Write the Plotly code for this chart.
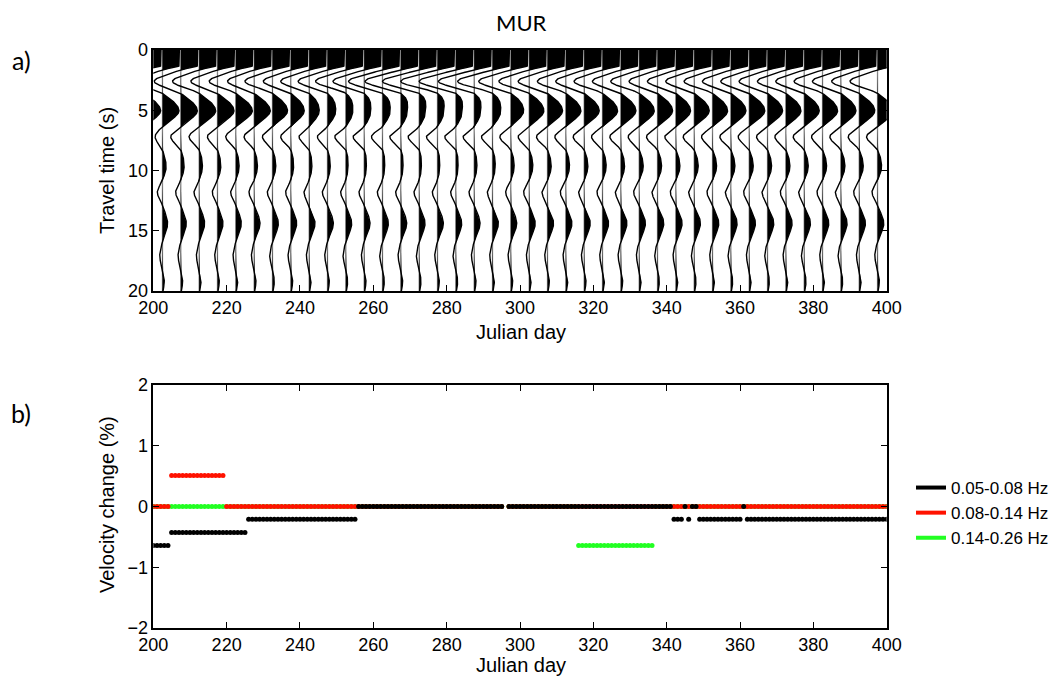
import numpy as np
import plotly.graph_objects as go

# ---------------- Panel a data: wiggle traces (5-day stacks) ----------------
trace_days = [197.5, 202.5, 207.5, 212.5, 217.5, 222.5, 227.5, 232.5, 237.5, 242.5,
              247.5, 252.5, 257.5, 262.5, 267.5, 272.5, 277.5, 282.5, 287.5, 292.5,
              297.5, 302.5, 307.5, 312.5, 317.5, 322.5, 327.5, 332.5, 337.5, 342.5,
              347.5, 352.5, 357.5, 362.5, 367.5, 372.5, 377.5, 382.5, 387.5, 392.5, 397.5]
# knot times (s): clipped zero-lag, then alternating zero crossings and lobe peaks
knot_times = [0.0, 1.3, 1.65, 2.6, 3.6, 5.05, 6.35, 7.2, 8.3, 9.7, 10.8, 11.8,
              12.9, 14.4, 15.9, 17.1, 18.2, 19.2, 20.0]
clip_level = 0.92  # in units of trace spacing
# lobe amplitudes per trace (units of trace spacing)
amp_n1 = [-1.45, -1.45, -1.45, -1.45, -1.45, -1.45, -1.45, -1.5, -1.5, -1.55,
          -1.6, -1.65, -1.7, -1.85, -1.95, -2.0, -2.0, -2.0, -1.95, -1.9,
          -1.75, -1.65, -1.6, -1.55, -1.55, -1.55, -1.55, -1.55, -1.55, -1.55,
          -1.55, -1.55, -1.55, -1.55, -1.55, -1.55, -1.55, -1.55, -1.55, -1.5, -1.5]
amp_p1 = [0.9, 0.9, 0.9, 0.9, 0.9, 0.9, 0.88, 0.82, 0.73, 0.55,
          0.45, 0.38, 0.36, 0.42, 0.36, 0.35, 0.35, 0.35, 0.36, 0.45,
          0.7, 0.8, 0.82, 0.82, 0.82, 0.82, 0.82, 0.82, 0.82, 0.8,
          0.82, 0.82, 0.82, 0.85, 0.82, 0.82, 0.82, 0.82, 0.82, 0.85, 0.9]
amp_n2 = [-0.4, -0.4, -0.55, -0.55, -0.55, -0.55, -0.55, -0.55, -0.55, -0.55,
          -0.55, -0.6, -0.6, -0.6, -0.6, -0.6, -0.6, -0.6, -0.6, -0.6,
          -0.6, -0.6, -0.6, -0.6, -0.6, -0.6, -0.6, -0.6, -0.6, -0.6,
          -0.6, -0.6, -0.6, -0.6, -0.6, -0.6, -0.6, -0.6, -0.6, -0.6, -0.6]
amp_p2 = [0.2, 0.2, 0.18, 0.18, 0.18, 0.18, 0.18, 0.18, 0.15, 0.15,
          0.15, 0.12, 0.12, 0.12, 0.12, 0.12, 0.12, 0.12, 0.15, 0.15,
          0.18, 0.2, 0.2, 0.2, 0.2, 0.2, 0.2, 0.22, 0.22, 0.22,
          0.22, 0.22, 0.22, 0.22, 0.22, 0.22, 0.22, 0.22, 0.22, 0.22, 0.22]
amp_n3 = [-0.28, -0.28, -0.28, -0.28, -0.28, -0.28, -0.28, -0.28, -0.28, -0.28,
          -0.28, -0.28, -0.28, -0.28, -0.28, -0.28, -0.28, -0.28, -0.28, -0.28,
          -0.28, -0.3, -0.3, -0.3, -0.3, -0.3, -0.3, -0.3, -0.3, -0.3,
          -0.3, -0.3, -0.3, -0.3, -0.3, -0.3, -0.3, -0.3, -0.3, -0.3, -0.3]
amp_p3 = [0.28, 0.28, 0.3, 0.3, 0.3, 0.3, 0.32, 0.32, 0.32, 0.32,
          0.32, 0.32, 0.32, 0.32, 0.32, 0.32, 0.32, 0.32, 0.32, 0.32,
          0.32, 0.33, 0.33, 0.33, 0.33, 0.33, 0.33, 0.34, 0.34, 0.34,
          0.34, 0.34, 0.34, 0.34, 0.34, 0.34, 0.34, 0.34, 0.34, 0.34, 0.34]
amp_n4 = [-0.15] * 41
amp_p4 = [0.1] * 41

# ---------------- Panel b data: velocity change runs ----------------
black_start = [200, 205, 226, 256, 297, 342, 345, 346, 347, 349, 361, 362]
black_end = [204, 225, 255, 295, 341, 344, 345, 346, 348, 360, 361, 400]
black_value = [-0.64, -0.43, -0.21, 0, 0, -0.21, 0, -0.21, 0, -0.21, 0, -0.21]
red_start = [200, 205, 220, 297]
red_end = [204, 219, 295, 400]
red_value = [0, 0.51, 0, 0]
green_start = [200, 220, 297, 316, 337]
green_end = [219, 295, 315, 336, 400]
green_value = [0, 0, 0, -0.64, 0]

x_ticks = [200, 220, 240, 260, 280, 300, 320, 340, 360, 380, 400]
ya_ticks = [0, 5, 10, 15, 20]
yb_ticks = [-2, -1, 0, 1, 2]


def expand(starts, ends, values):
    d, v = [], []
    for s, e, val in zip(starts, ends, values):
        for day in range(s, e + 1):
            d.append(day)
            v.append(val)
    return d, v


def hermite(tk, vk, tt):
    tk = np.asarray(tk, float)
    vk = np.asarray(vk, float)
    n = len(tk)
    m = np.zeros(n)
    m[0] = (vk[1] - vk[0]) / (tk[1] - tk[0])
    m[-1] = (vk[-1] - vk[-2]) / (tk[-1] - tk[-2])
    for i in range(1, n - 1):
        m[i] = (vk[i + 1] - vk[i - 1]) / (tk[i + 1] - tk[i - 1])
    idx = np.clip(np.searchsorted(tk, tt, side="right") - 1, 0, n - 2)
    h = tk[idx + 1] - tk[idx]
    s = (tt - tk[idx]) / h
    h00 = 2 * s**3 - 3 * s**2 + 1
    h10 = s**3 - 2 * s**2 + s
    h01 = -2 * s**3 + 3 * s**2
    h11 = s**3 - s**2
    return h00 * vk[idx] + h10 * h * m[idx] + h01 * vk[idx + 1] + h11 * h * m[idx + 1]


spacing = 5.0
tt = np.linspace(0, 20, 801)
line_x, line_y, fill_x, fill_y, base_x, base_y = [], [], [], [], [], []
for k, B in enumerate(trace_days):
    vk = [clip_level, clip_level, 0, amp_n1[k], 0, amp_p1[k], 0, amp_n2[k], 0,
          amp_p2[k], 0, amp_n3[k], 0, amp_p3[k], 0, amp_n4[k], 0, amp_p4[k], 0.03]
    v = np.minimum(hermite(knot_times, vk, tt), clip_level)
    xl = B + spacing * v
    line_x += list(xl) + [None]
    line_y += list(tt) + [None]
    xf = B + spacing * np.maximum(v, 0)
    fill_x += list(xf) + [B, B, None]
    fill_y += list(tt) + [20, 0, None]
    base_x += [B, B, None]
    base_y += [0, 20, None]

fig = go.Figure()
fig.add_trace(go.Scatter(x=base_x, y=base_y, mode="lines", line=dict(color="#8c8c8c", width=1.3),
                         showlegend=False, hoverinfo="skip", xaxis="x", yaxis="y"))
fig.add_trace(go.Scatter(x=fill_x, y=fill_y, mode="lines", fill="toself", fillcolor="black",
                         line=dict(width=0, color="black"), showlegend=False, hoverinfo="skip",
                         xaxis="x", yaxis="y"))
fig.add_trace(go.Scatter(x=line_x, y=line_y, mode="lines", line=dict(color="black", width=1.4),
                         showlegend=False, hoverinfo="skip", xaxis="x", yaxis="y"))

gd, gv = expand(green_start, green_end, green_value)
rd, rv = expand(red_start, red_end, red_value)
bd, bv = expand(black_start, black_end, black_value)
for d, v, c in [(gd, gv, "#22ff22"), (rd, rv, "#ff1200"), (bd, bv, "#000000")]:
    fig.add_trace(go.Scatter(x=d, y=v, mode="markers", marker=dict(color=c, size=5, line=dict(width=0)),
                             showlegend=False, xaxis="x2", yaxis="y2"))
for name, c in [("0.05-0.08 Hz", "#000000"), ("0.08-0.14 Hz", "#ff1200"), ("0.14-0.26 Hz", "#22ff22")]:
    fig.add_trace(go.Scatter(x=[None], y=[None], mode="lines", line=dict(color=c, width=4),
                             name=name, xaxis="x2", yaxis="y2"))

W, H = 1058, 678
xl0, xr0 = 153.3 / W, 886.7 / W
tickfont = dict(family="Liberation Sans, Arial, sans-serif", size=18, color="black")
common = dict(showline=True, linecolor="black", linewidth=1.5, mirror="ticks", ticks="inside",
              ticklen=6, tickcolor="black", showgrid=False, zeroline=False, tickfont=tickfont)

fig.update_layout(
    width=W, height=H, margin=dict(l=0, r=0, t=0, b=0, autoexpand=False),
    paper_bgcolor="white", plot_bgcolor="white",
    xaxis=dict(domain=[xl0, xr0], range=[200, 400], tickvals=x_ticks, anchor="y", **common),
    yaxis=dict(domain=[1 - 291 / H, 1 - 50 / H], range=[20, 0], tickvals=ya_ticks, anchor="x", **common),
    xaxis2=dict(domain=[xl0, xr0], range=[200, 400], tickvals=x_ticks, anchor="y2", **common),
    yaxis2=dict(domain=[1 - 628 / H, 1 - 385 / H], range=[-2, 2], tickvals=yb_ticks, anchor="x2", **common),
    legend=dict(x=911 / W, y=1 - 470 / H, xanchor="left", yanchor="top",
                font=dict(family="Liberation Sans, Arial, sans-serif", size=17, color="black"),
                bgcolor="rgba(0,0,0,0)", itemwidth=30, tracegroupgap=0),
    showlegend=True,
)

lab = dict(family="Liberation Sans, Arial, sans-serif", size=20, color="black")
cal = dict(family="Lato, Open Sans, sans-serif", size=25, color="black")
ann = [
    dict(text="MUR", x=521 / W, y=1 - 22 / H, font=dict(family="Lato, sans-serif", size=22, color="black")),
    dict(text="a)", x=21 / W, y=1 - 60 / H, font=cal),
    dict(text="b)", x=21 / W, y=1 - 413 / H, font=cal),
    dict(text="Julian day", x=521 / W, y=1 - 332 / H, font=lab),
    dict(text="Julian day", x=521 / W, y=1 - 665 / H, font=lab),
    dict(text="Travel time (s)", x=107 / W, y=1 - 171 / H, font=lab, textangle=-90),
    dict(text="Velocity change (%)", x=107 / W, y=1 - 505 / H, font=lab, textangle=-90),
]
fig.update_layout(annotations=[dict(xref="paper", yref="paper", showarrow=False,
                                    xanchor="center", yanchor="middle", **a) for a in ann])

fig.write_html("out.html")
